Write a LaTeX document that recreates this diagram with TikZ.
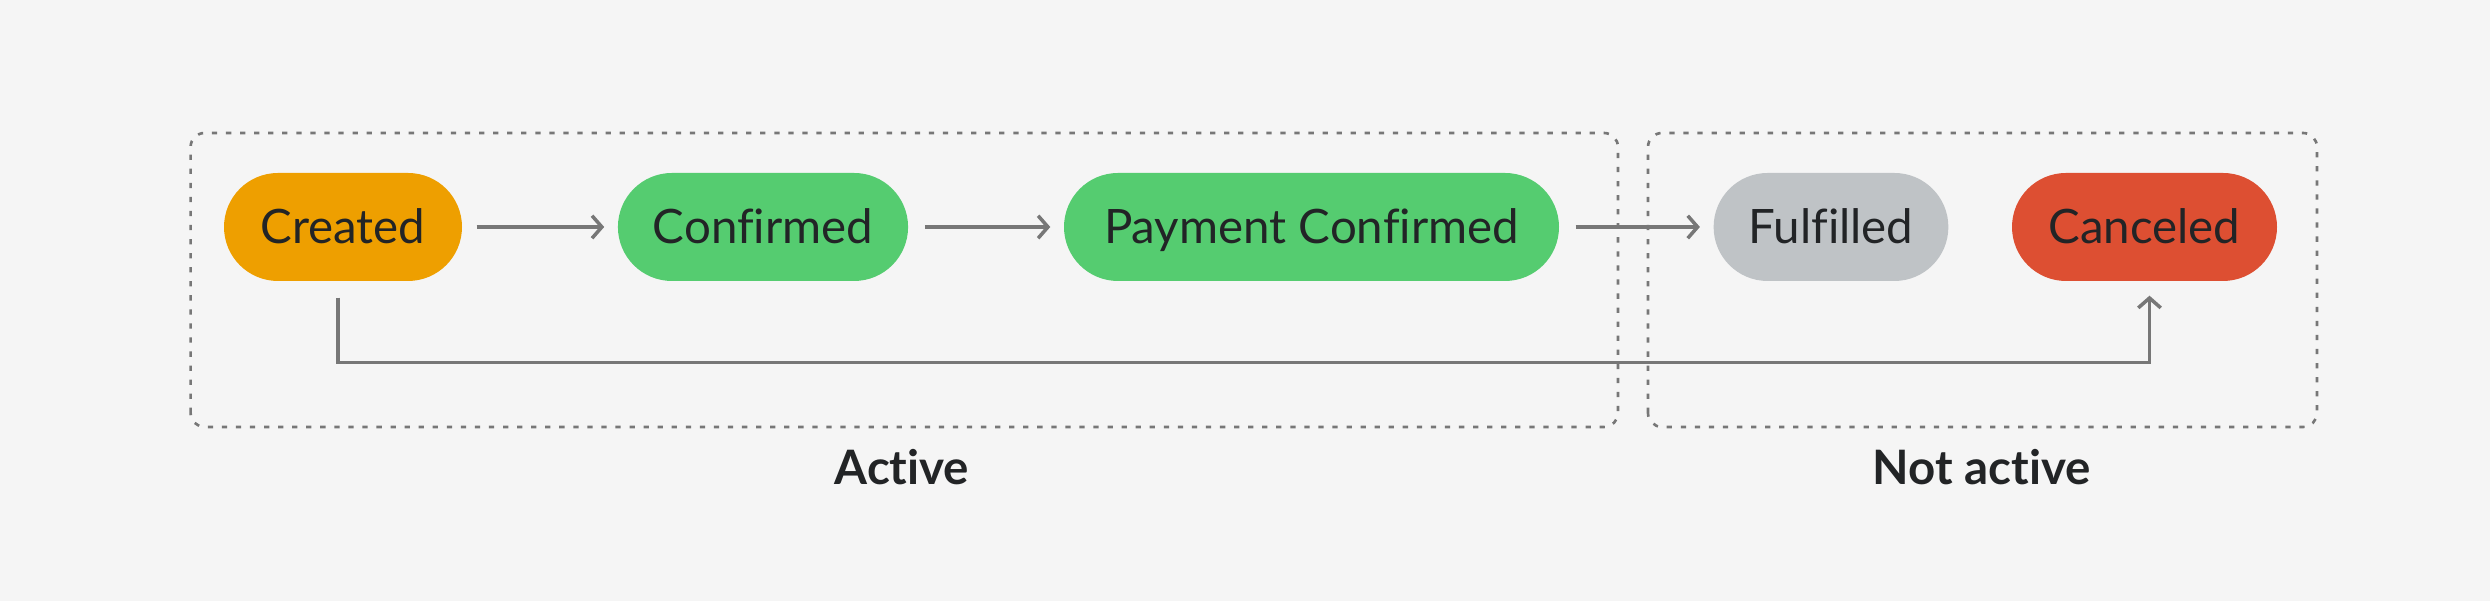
\documentclass[tikz,border=0pt]{standalone}
\usepackage{fontspec}
\setmainfont{Lato}[Ligatures=NoCommon]
\usetikzlibrary{arrows.meta}
\definecolor{bgcol}{HTML}{F5F5F5}
\definecolor{txtcol}{HTML}{222426}
\definecolor{linecol}{HTML}{777777}
\definecolor{createdcol}{HTML}{EE9F00}
\definecolor{okcol}{HTML}{55CC70}
\definecolor{donecol}{HTML}{BFC3C6}
\definecolor{cancelcol}{HTML}{DD4F32}
\tikzset{
  state/.style={rounded corners=0.54cm, minimum height=1.08cm, inner xsep=0.35cm,
    text height=9.6pt, text depth=0pt,
    text=txtcol, font=\fontsize{13.5}{16}\selectfont},
  flow/.style={draw=linecol, line width=1pt, -{Straight Barb[length=2.8pt,width=6.4pt]}},
  groupbox/.style={draw=linecol, line width=0.75pt, dash pattern=on 1.5pt off 2.5pt,
    rounded corners=0.14cm},
  grouplabel/.style={text=txtcol, font=\bfseries\fontsize{13.5}{16}\selectfont}
}
\begin{document}
\begin{tikzpicture}
        \fill[bgcol] (0,0) rectangle (24.9,6.01);
        \useasboundingbox (0,0) rectangle (24.9,6.01);
        % groups
        \draw[groupbox] (1.906,1.74) rectangle (16.18,4.68);
        \draw[groupbox] (16.48,1.74) rectangle (23.17,4.68);
        \node[grouplabel] (activelbl) at (9.02,1.34) {Active};
        \node[grouplabel] (inactivelbl) at (19.82,1.34) {Not active};
        % states
        \node[state, fill=createdcol, minimum width=2.38cm] (created) at (3.43,3.74) {Created};
        \node[state, fill=okcol, minimum width=2.90cm] (confirmed) at (7.63,3.74) {Confirmed};
        \node[state, fill=okcol, minimum width=4.95cm] (paid) at (13.115,3.74) {Payment Confirmed};
        \node[state, fill=donecol, minimum width=2.32cm] (fulfilled) at (18.31,3.74) {Fulfilled};
        \node[state, fill=cancelcol, minimum width=2.65cm] (canceled) at (21.445,3.74) {Canceled};
        % transitions
        \draw[flow, shorten <=0.14cm, shorten >=0.13cm] (created) -- (confirmed);
        \draw[flow, shorten <=0.16cm, shorten >=0.13cm] (confirmed) -- (paid);
        \draw[flow, shorten <=0.16cm, shorten >=0.13cm] (paid) -- (fulfilled);
        \draw[flow, shorten <=0.16cm, shorten >=0.14cm] ([xshift=-0.05cm]created.south) -- ++(0,-0.81) -| ([xshift=0.05cm]canceled.south);
    \end{tikzpicture}
\end{document}
